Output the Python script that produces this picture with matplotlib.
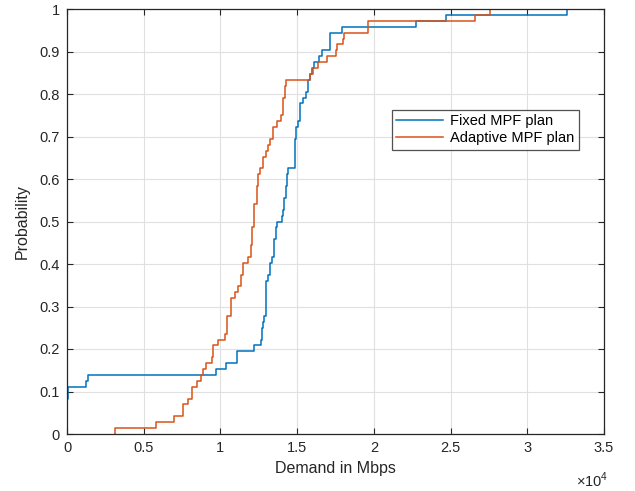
import numpy as np
import matplotlib
matplotlib.use("Agg")
import matplotlib.pyplot as plt

plt.rcParams['font.family'] = ['Liberation Sans', 'DejaVu Sans']
plt.rcParams['mathtext.fontset'] = 'custom'
plt.rcParams['mathtext.rm'] = 'Liberation Sans'

# Demand samples (Mbps, in thousands) read from the empirical CDFs
fixed_demand_k = [
    0, 0, 0, 0, 0, 0, 0.09, 0.09, 1.24, 1.37,
    9.69, 10.34, 11.06, 11.06, 12.19, 12.63, 12.69, 12.73, 12.80, 12.84,
    12.95, 12.96, 12.97, 12.98, 12.99, 13.00, 13.12, 13.23, 13.23, 13.34,
    13.51, 13.51, 13.51, 13.62, 13.62, 13.71, 14.00, 14.06, 14.15, 14.15,
    14.26, 14.26, 14.32, 14.32, 14.43, 14.86, 14.86, 14.86, 14.87, 14.88,
    14.90, 14.93, 15.08, 15.19, 15.19, 15.19, 15.40, 15.56, 15.69, 15.69,
    15.84, 15.99, 16.12, 16.43, 16.60, 17.14, 17.14, 17.14, 17.91, 22.73,
    24.69, 32.57,
]
adaptive_demand_k = [
    3.13, 5.78, 6.98, 7.54, 7.54, 7.87, 8.17, 8.17, 8.45, 8.74,
    8.89, 9.04, 9.43, 9.54, 9.54, 9.86, 10.30, 10.41, 10.41, 10.41,
    10.67, 10.67, 10.67, 10.95, 11.17, 11.32, 11.32, 11.49, 11.49, 11.82,
    11.97, 11.97, 12.08, 12.08, 12.08, 12.19, 12.19, 12.19, 12.19, 12.37,
    12.37, 12.37, 12.47, 12.47, 12.58, 12.75, 12.75, 12.97, 13.12, 13.23,
    13.45, 13.45, 13.67, 13.93, 14.06, 14.06, 14.06, 14.21, 14.21, 14.28,
    15.84, 16.02, 16.36, 16.93, 17.52, 17.58, 17.97, 18.06, 19.60, 19.60,
    26.60, 27.60,
]
series_labels = ['Fixed MPF plan', 'Adaptive MPF plan']
series_colors = ['#0072BD', '#D95319']
x_ticks = [0, 0.5, 1, 1.5, 2, 2.5, 3, 3.5]
y_ticks = [0, 0.1, 0.2, 0.3, 0.4, 0.5, 0.6, 0.7, 0.8, 0.9, 1]


def ecdf(samples):
    s = np.sort(np.asarray(samples, dtype=float) * 1000.0)
    xs, counts = np.unique(s, return_counts=True)
    ys = np.cumsum(counts) / len(s)
    xs = np.concatenate([[xs[0]], xs])
    ys = np.concatenate([[0.0], ys])
    return xs, ys


fig = plt.figure(figsize=(6.35, 4.91), dpi=100)
ax = fig.add_axes([67/635, 1-434/491, (604-67)/635, (434-9)/491])

for data, lab, col in zip([fixed_demand_k, adaptive_demand_k], series_labels, series_colors):
    xs, ys = ecdf(data)
    ax.step(xs, ys, where='post', color=col, lw=1.1, label=lab)

ax.set_xlim(0, 35000)
ax.set_ylim(0, 1)
ax.set_xticks([t * 1e4 for t in x_ticks])
ax.set_xticklabels([('%g' % t) for t in x_ticks])
ax.set_yticks(y_ticks)
ax.set_yticklabels([('%g' % t) for t in y_ticks])

ax.grid(True, color='#E0E0E0', lw=0.8)
ax.set_axisbelow(True)
for sp in ax.spines.values():
    sp.set_color('#262626')
    sp.set_linewidth(0.9)
ax.tick_params(direction='in', top=True, right=True, length=4, width=0.8,
               colors='#262626', labelsize=10.5, pad=5)
for lbl in ax.get_xticklabels() + ax.get_yticklabels():
    lbl.set_color('#262626')

ax.set_xlabel('Demand in Mbps', fontsize=11.5, color='#262626', labelpad=4)
ax.set_ylabel('Probability', fontsize=11.5, color='#262626', labelpad=7)
fig.text(608/635, 1-480/491, r'$\times10^{4}$', ha='right', va='center',
         fontsize=10.5, color='#262626')

leg = ax.legend(loc='upper left', bbox_to_anchor=((392-67)/537, (434-110)/425),
                fontsize=10.5, frameon=True, fancybox=False, handlelength=3.2,
                borderpad=0.3, labelspacing=0.2, handletextpad=0.5, borderaxespad=0)
leg.get_frame().set_edgecolor('#262626')
leg.get_frame().set_linewidth(0.9)

fig.savefig('out.png', dpi=100)
